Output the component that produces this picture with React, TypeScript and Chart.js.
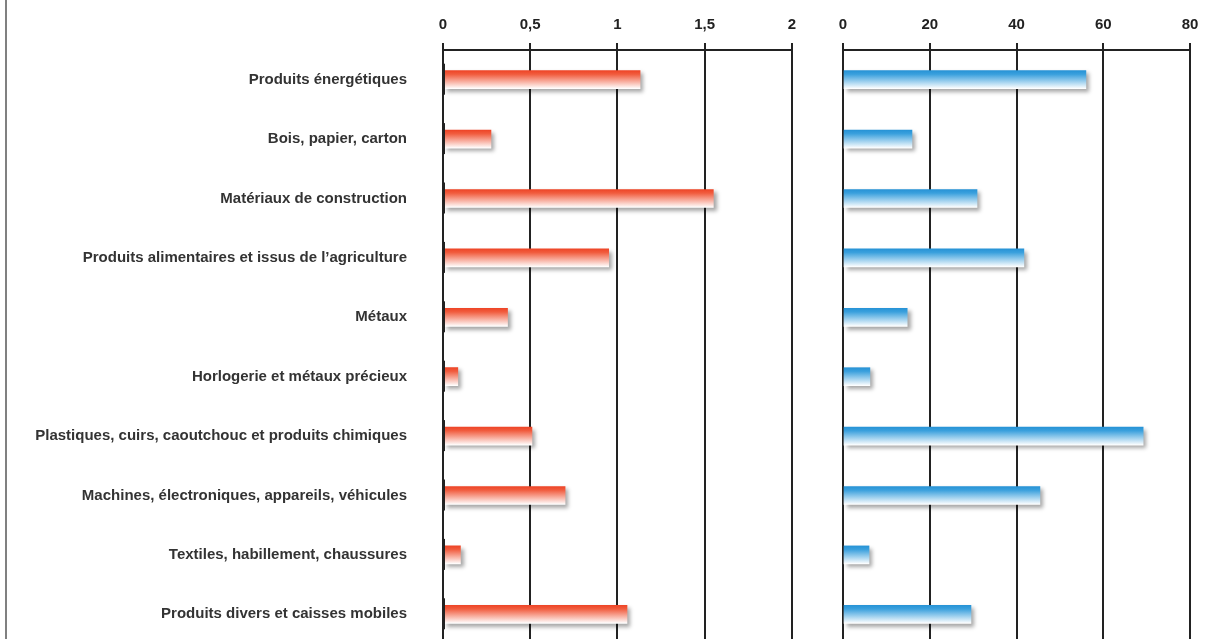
import React, { useEffect, useRef } from 'react';
import { Chart, registerables } from 'chart.js';
Chart.register(...registerables);

const categories = [
  'Produits énergétiques',
  'Bois, papier, carton',
  'Matériaux de construction',
  'Produits alimentaires et issus de l’agriculture',
  'Métaux',
  'Horlogerie et métaux précieux',
  'Plastiques, cuirs, caoutchouc et produits chimiques',
  'Machines, électroniques, appareils, véhicules',
  'Textiles, habillement, chaussures',
  'Produits divers et caisses mobiles',
];
const redValues = [1.13, 0.275, 1.55, 0.95, 0.37, 0.085, 0.51, 0.7, 0.1, 1.055];
const blueValues = [56.0, 15.9, 30.9, 41.7, 14.8, 6.2, 69.2, 45.4, 6.0, 29.5];
const redAxis = { min: 0, max: 2, step: 0.5 };
const blueAxis = { min: 0, max: 80, step: 20 };

const FONT = "'Liberation Sans', Arial, sans-serif";

function gradientFill(top: string, upper: string) {
  return (ctx: any) => {
    const chart = ctx.chart;
    const y = chart.scales && chart.scales.y;
    if (!y || ctx.dataIndex === undefined) return upper;
    const c = y.getPixelForValue(ctx.dataIndex);
    if (!Number.isFinite(c)) return upper;
    const g = chart.ctx.createLinearGradient(0, c - 9, 0, c + 9);
    g.addColorStop(0, top);
    g.addColorStop(0.2, upper);
    g.addColorStop(1, '#ffffff');
    return g;
  };
}

const shadowPlugin = {
  id: 'barShadow',
  beforeDatasetsDraw(chart: any) {
    const c = chart.ctx;
    c.save();
    c.shadowColor = 'rgba(0,0,0,0.35)';
    c.shadowBlur = 4;
    c.shadowOffsetX = 3;
    c.shadowOffsetY = 3;
  },
  afterDatasetsDraw(chart: any) {
    chart.ctx.restore();
  },
};

const zeroMarkPlugin = {
  id: 'zeroMark',
  afterDatasetsDraw(chart: any) {
    const c = chart.ctx;
    const x0 = chart.scales.x.getPixelForValue(0);
    const y = chart.scales.y;
    c.save();
    c.strokeStyle = '#222';
    c.lineWidth = 3;
    categories.forEach((_, i) => {
      const cy = y.getPixelForValue(i);
      c.beginPath();
      c.moveTo(x0 + 0.5, cy - 16);
      c.lineTo(x0 + 0.5, cy + 15);
      c.stroke();
    });
    c.restore();
  },
};

function makeOptions(axis: any, showLabels: boolean, padding: any) {
  return {
    indexAxis: 'y' as const,
    animation: false as const,
    responsive: false,
    maintainAspectRatio: false,
    layout: { padding },
    plugins: { legend: { display: false }, tooltip: { enabled: false } },
    scales: {
      x: {
        position: 'top' as const,
        min: axis.min,
        max: axis.max,
        afterFit: (s: any) => { s.height = 50; },
        grid: { color: '#222', lineWidth: 2, tickLength: 7, drawTicks: true },
        border: { display: true, color: '#222', width: 2 },
        ticks: {
          stepSize: axis.step,
          padding: 9,
          color: '#222',
          font: { family: FONT, size: 15, weight: 'bold' as const },
          callback: (v: any) => String(v).replace('.', ','),
        },
      },
      y: {
        display: showLabels,
        afterFit: (s: any) => { if (showLabels) s.width = 443; },
        grid: { display: false, drawTicks: false },
        border: { display: false },
        ticks: {
          padding: 36,
          color: '#333',
          font: { family: FONT, size: 15, weight: 'bold' as const },
        },
      },
    },
  };
}

export default function App() {
  const leftRef = useRef<HTMLCanvasElement>(null);
  const rightRef = useRef<HTMLCanvasElement>(null);

  useEffect(() => {
    const left = new Chart(leftRef.current!, {
      type: 'bar',
      data: {
        labels: categories,
        datasets: [{
          data: redValues,
          backgroundColor: gradientFill('#ee4527', '#f15c3e'),
          barThickness: 18,
          borderWidth: 0,
        }],
      },
      options: makeOptions(redAxis, true, { top: 0, right: 0, bottom: 0, left: 0 }) as any,
      plugins: [shadowPlugin, zeroMarkPlugin],
    });
    const right = new Chart(rightRef.current!, {
      type: 'bar',
      data: {
        labels: categories,
        datasets: [{
          data: blueValues,
          backgroundColor: gradientFill('#2793d6', '#3aa0dd'),
          barThickness: 18,
          borderWidth: 0,
        }],
      },
      options: makeOptions(blueAxis, false, { top: 0, right: 31, bottom: 6, left: 43 }) as any,
      plugins: [shadowPlugin],
    });
    return () => { left.destroy(); right.destroy(); };
  }, []);

  return (
    <div style={{ position: 'absolute', left: 0, top: 0, width: 1221, height: 639, overflow: 'hidden', background: '#fff' }}>
      <div style={{ position: 'absolute', left: 5, top: 0, width: 0, height: 639, borderLeft: '2px solid #808080' }} />
      <canvas ref={leftRef} width={805} height={689} style={{ position: 'absolute', left: 0, top: 0, width: 805, height: 689 }} />
      <canvas ref={rightRef} width={421} height={650} style={{ position: 'absolute', left: 800, top: 0, width: 421, height: 650 }} />
    </div>
  );
}
